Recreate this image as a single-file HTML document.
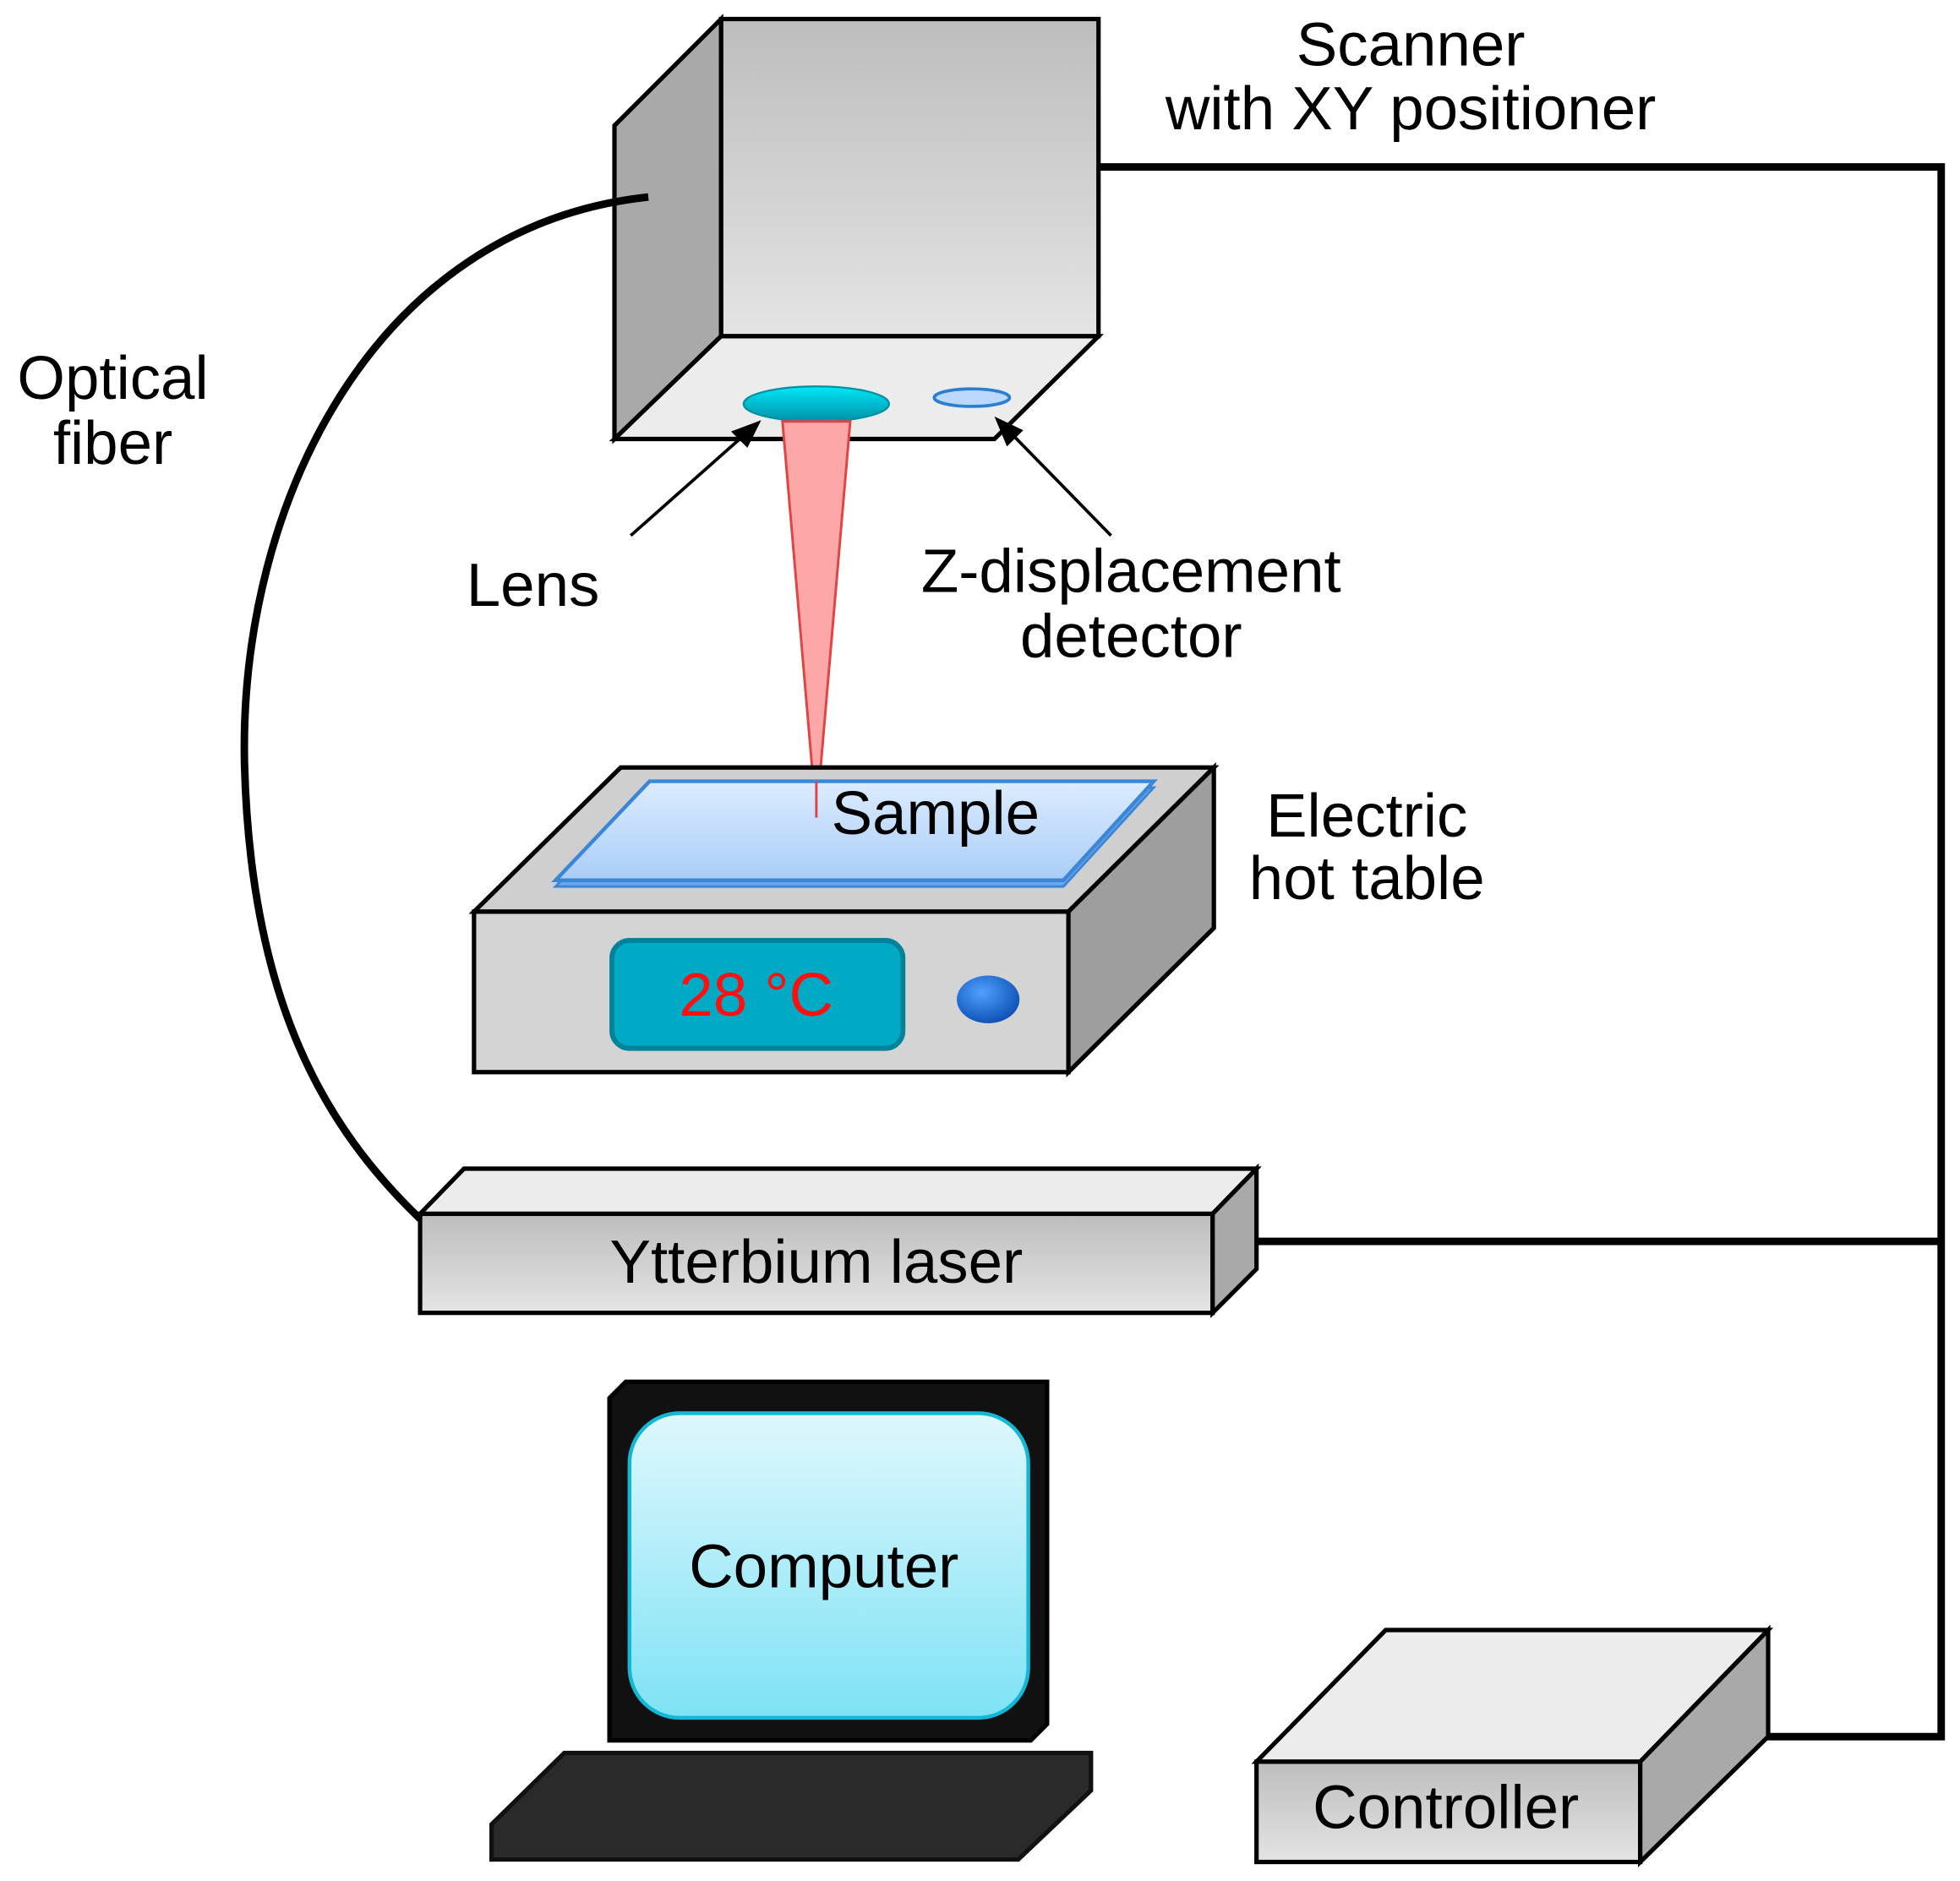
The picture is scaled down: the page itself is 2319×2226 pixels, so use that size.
<!DOCTYPE html>
<html><head><meta charset="utf-8"><style>html,body{margin:0;padding:0;background:#fff}svg{display:block}</style></head>
<body>
<svg width="2319" height="2226" viewBox="0 0 1563 1500" xmlns="http://www.w3.org/2000/svg" font-family="Liberation Sans, Arial, sans-serif">
<defs>
<linearGradient id="gf" x1="0" y1="0" x2="0" y2="1"><stop offset="0" stop-color="#bdbdbd"/><stop offset="1" stop-color="#e4e4e4"/></linearGradient>
<linearGradient id="gs" x1="0" y1="0" x2="0" y2="1"><stop offset="0" stop-color="#dcecff"/><stop offset="1" stop-color="#a9cdf7"/></linearGradient>
<linearGradient id="gc" x1="0" y1="0" x2="0" y2="1"><stop offset="0" stop-color="#dff8fd"/><stop offset="1" stop-color="#7ee2f5"/></linearGradient>
<linearGradient id="gl" x1="0" y1="0" x2="0" y2="1"><stop offset="0" stop-color="#00e8f8"/><stop offset="1" stop-color="#0090a8"/></linearGradient>
<radialGradient id="gk" cx="0.4" cy="0.35" r="0.7"><stop offset="0" stop-color="#4fa0ff"/><stop offset="1" stop-color="#0a4eb0"/></radialGradient>
</defs>
<g stroke="#000" stroke-width="3.5" stroke-linejoin="miter">
<path d="M876,133 H1548 V1385 H1365" fill="none" stroke-width="6"/>
<path d="M987,990 H1548" fill="none" stroke-width="6"/>
<!-- scanner -->
<rect x="575" y="15" width="301" height="253" fill="url(#gf)"/>
<polygon points="490,100 575,15 575,268 490,350" fill="#a9a9a9"/>
<polygon points="490,350 575,268 876,268 793,350" fill="#ececec"/>
<ellipse cx="651" cy="322" rx="58" ry="14" fill="url(#gl)" stroke="#0090a0" stroke-width="1.5"/>
<ellipse cx="775" cy="317" rx="30" ry="7" fill="#bcd8ff" stroke="#2a7fd0" stroke-width="2.5"/>
<polygon points="624,336 678,336 651,652" fill="#fca8a8" stroke="#e04444" stroke-width="2"/>
<!-- hot table -->
<polygon points="378,727 495,612 968,612 852,727" fill="#cfcfcf"/>
<rect x="378" y="727" width="474" height="128" fill="#d4d4d4"/>
<polygon points="852,727 968,612 968,740 852,855" fill="#9e9e9e"/>
<polygon points="443,707 518,628 920,628 848,707" fill="#6aa6e8" stroke="#3b86d6" stroke-width="2"/>
<polygon points="443,702 518,623 920,623 848,702" fill="url(#gs)" stroke="#3b86d6" stroke-width="3"/>
<line x1="651" y1="623" x2="651" y2="652" stroke="#e04444" stroke-width="2"/>
<rect x="488" y="750" width="232" height="86" rx="14" fill="#00aac4" stroke="#00839a" stroke-width="4"/>
<ellipse cx="788" cy="797" rx="25" ry="19" fill="url(#gk)" stroke="none"/>
<!-- laser -->
<polygon points="335,968 370,932 1002,932 967,968" fill="#ececec"/>
<rect x="335" y="968" width="632" height="79" fill="url(#gf)"/>
<polygon points="967,968 1002,932 1002,1012 967,1047" fill="#a9a9a9"/>
<!-- computer -->
<polygon points="486,1115 499,1102 835,1102 835,1375 822,1388 486,1388" fill="#111"/>
<rect x="502" y="1127" width="318" height="243" rx="40" fill="url(#gc)" stroke="#13b8d6" stroke-width="3"/>
<polygon points="392,1455 450,1398 870,1398 870,1428 812,1483 392,1483" fill="#2a2a2a" stroke="#111"/>
<!-- controller -->
<polygon points="1002,1405 1105,1300 1410,1300 1308,1405" fill="#ececec"/>
<rect x="1002" y="1405" width="306" height="80" fill="url(#gf)"/>
<polygon points="1308,1405 1410,1300 1410,1385 1308,1485" fill="#a9a9a9"/>
<!-- fiber cable on top -->
<path d="M517,157 C300,180 190,400 195,610 C200,800 260,900 335,972" fill="none" stroke-width="6"/>
<!-- arrows -->
<line x1="503" y1="427" x2="600" y2="341" stroke-width="2.5"/>
<polygon points="607,335 583,344 596,357" fill="#000" stroke="none"/>
<line x1="886" y1="427" x2="800" y2="339" stroke-width="2.5"/>
<polygon points="793,332 803,356 816,343" fill="#000" stroke="none"/>
</g>
<g fill="#000" font-size="49" text-anchor="middle">
<text x="1125" y="52">Scanner</text>
<text x="1125" y="103">with XY positioner</text>
<text x="90" y="318">Optical</text>
<text x="90" y="370">fiber</text>
<text x="425" y="483">Lens</text>
<text x="902" y="472">Z-displacement</text>
<text x="902" y="524">detector</text>
<text x="746" y="665">Sample</text>
<text x="1090" y="667">Electric</text>
<text x="1090" y="717">hot table</text>
<text x="603" y="810" fill="#ff1010">28 °C</text>
<text x="651" y="1023">Ytterbium laser</text>
<text x="657" y="1266">Computer</text>
<text x="1153" y="1458">Controller</text>
</g>
</svg>
</body></html>
